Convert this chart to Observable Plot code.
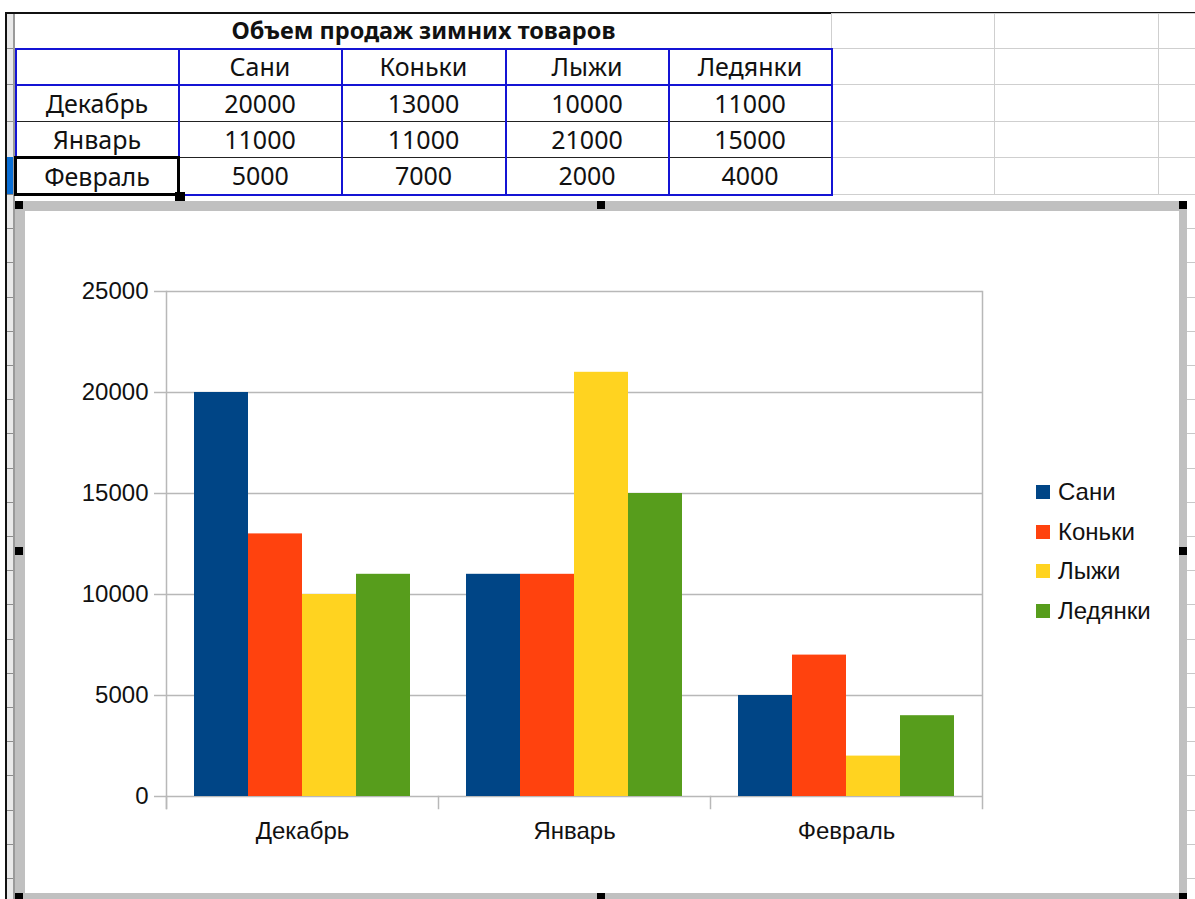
<!DOCTYPE html>
<html lang="ru">
<head>
<meta charset="utf-8">
<script src="https://cdn.jsdelivr.net/npm/d3@7"></script>
<script src="https://cdn.jsdelivr.net/npm/@observablehq/plot@0.6"></script>
<style>
  html, body { margin: 0; padding: 0; background: #fff; }
  #page { position: relative; width: 1195px; height: 899px; overflow: hidden; background: #fff; }
  .abs { position: absolute; }
  /* spreadsheet chrome */
  #topline { left: 6px; top: 12px; width: 1189px; height: 2px; background: #111; }
  #leftline { left: 5px; top: 12px; width: 2px; height: 887px; background: #111; }
  #rowhdr1 { left: 7px; top: 13px; width: 7px; height: 181px; background:
      repeating-linear-gradient(to bottom, #e9e9e9 0 35.2px, #8c8c8c 35.2px 36.2px); }
  #rowhdr2 { left: 7px; top: 194px; width: 7px; height: 705px; background:
      repeating-linear-gradient(to bottom, #8c8c8c 0 1px, #e9e9e9 1px 34.2px); }
  #rowsel { left: 7px; top: 157px; width: 7px; height: 37px; background: #0a6fd6; }
  #colsep { left: 13px; top: 13px; width: 2px; height: 886px; background: #9a9a9a; }
  #below { left: 15px; top: 194px; width: 1180px; height: 705px; background:
      repeating-linear-gradient(to bottom, #c8c8c8 0 1px, transparent 1px 34.2px); }
  #sheet { left: 14px; top: 13px; border-collapse: collapse; table-layout: fixed;
      font-family: "Noto Sans", "Open Sans", sans-serif; font-size: 25px; color: #111; }
  #sheet td { border: 1px solid #cfcfcf; padding: 0; text-align: center; vertical-align: middle;
      white-space: nowrap; overflow: hidden; line-height: 1; }
  #sheet td.ttl { font-weight: bold; font-size: 23.5px; border-left-color: transparent; border-top: 1px solid #111; }
  #sheet td.hd { border: 2px solid #1414d4; }
  #sheet td.dc { border-left: 2px solid #1414d4; border-right: 2px solid #1414d4;
      border-top: 1px solid #222; border-bottom: 1px solid #222; }
  #sheet td.dc.first { border-top: 2px solid #1414d4; }
  #sheet td.dc.last { border-bottom: 2px solid #1414d4; }
  #sheet td.sel { border: 3px solid #000 !important; }
  #fillhandle { left: 175px; top: 192px; width: 10px; height: 9px; background: #000; }
  /* chart object */
  #chartbox { left: 15px; top: 201px; width: 1172px; height: 700px; box-sizing: border-box;
      background: #fff; border-style: solid; border-color: #c0c0c0;
      border-width: 10px 8px 8px 10px; }
  .handle { position: absolute; width: 8px; height: 8px; background: #000; }
  #chart { position: absolute; left: 25px; top: 211px; }
  #legend { position: absolute; left: 1036px; top: 472px;
      font-family: "Liberation Sans", Arial, sans-serif; font-size: 24px; color: #111; }
  #legend .row { display: flex; align-items: center; height: 39.7px; }
  #legend .sw { width: 14px; height: 14px; margin-right: 8px; flex: none; }
</style>
</head>
<body>
<div id="page">
  <div id="below" class="abs"></div>
  <div id="rowhdr1" class="abs"></div>
  <div id="rowhdr2" class="abs"></div>
  <div id="rowsel" class="abs"></div>
  <div id="colsep" class="abs"></div>
  <div id="topline" class="abs"></div>
  <div id="leftline" class="abs"></div>
  <table id="sheet" class="abs"></table>
  <div id="fillhandle" class="abs"></div>
  <div id="chartbox" class="abs"></div>
  <div id="chart"></div>
  <div id="legend"></div>
</div>
<script>
// Sales of winter goods, by month and product
const title = "Объем продаж зимних товаров";
const months = ["Декабрь", "Январь", "Февраль"];
const items = ["Сани", "Коньки", "Лыжи", "Ледянки"];
const sani = [20000, 11000, 5000];
const konki = [13000, 11000, 7000];
const lyzhi = [10000, 21000, 2000];
const ledyanki = [11000, 15000, 4000];
const colors = ["#004586", "#ff420e", "#ffd320", "#579d1c"];
const yTicks = [0, 5000, 10000, 15000, 20000, 25000];

const series = [sani, konki, lyzhi, ledyanki];

// ---- spreadsheet table ----
const colWidths = [163, 163, 164, 163, 163, 163, 164, 60];
const rowHeights = [35, 36, 37, 36, 37];
const sheet = document.getElementById("sheet");
const cg = document.createElement("colgroup");
colWidths.forEach(w => { const c = document.createElement("col"); c.style.width = w + "px"; cg.appendChild(c); });
sheet.appendChild(cg);
sheet.style.width = d3.sum(colWidths) + "px";

function addRow(h, cells) {
  const tr = document.createElement("tr");
  tr.style.height = h + "px";
  cells.forEach(c => {
    const td = document.createElement("td");
    if (c.span) td.colSpan = c.span;
    if (c.cls) td.className = c.cls;
    td.textContent = c.text ?? "";
    tr.appendChild(td);
  });
  sheet.appendChild(tr);
}
const emptyCells = n => Array.from({length: n}, () => ({}));
addRow(rowHeights[0], [{text: title, span: 1 + items.length, cls: "ttl"}, ...emptyCells(3)]);
addRow(rowHeights[1], [{cls: "hd"}, ...items.map(t => ({text: t, cls: "hd"})), ...emptyCells(3)]);
months.forEach((m, i) => {
  const pos = (i === 0 ? " first" : "") + (i === months.length - 1 ? " last" : "");
  addRow(rowHeights[2 + i], [
    {text: m, cls: "dc" + pos + (i === months.length - 1 ? " sel" : "")},
    ...series.map(s => ({text: String(s[i]), cls: "dc" + pos})),
    ...emptyCells(3)
  ]);
});

// ---- chart object frame handles ----
const box = {left: 15, top: 201, right: 1187, bottom: 901};
const page = document.getElementById("page");
[box.left, (box.left + box.right) / 2 - 4, box.right - 8].forEach(x => {
  [box.top, (box.top + box.bottom) / 2 - 4, box.bottom - 8].forEach(y => {
    if (x === (box.left + box.right) / 2 - 4 && y === (box.top + box.bottom) / 2 - 4) return;
    const h = document.createElement("div");
    h.className = "handle";
    h.style.left = x + "px";
    h.style.top = y + "px";
    page.appendChild(h);
  });
});

// ---- clustered column chart ----
const rows = months.flatMap((m, i) => items.map((it, j) => ({month: m, item: it, value: series[j][i]})));
const W = 980, H = 650, mT = 80, mB = 65;
const axisGrey = "#b8b8b8";

const chart = Plot.plot({
  width: W,
  height: H,
  marginLeft: 140,
  marginRight: 22,
  marginTop: mT,
  marginBottom: mB,
  style: {fontFamily: "'Liberation Sans', Arial, sans-serif", fontSize: "24px", color: "#111", background: "transparent", overflow: "visible"},
  fx: {domain: months, padding: 0, label: null},
  x: {domain: items, paddingInner: 0, paddingOuter: 0.5, axis: null},
  y: {domain: [0, 25000], axis: null},
  color: {domain: items, range: colors},
  marks: [
    Plot.gridY(yTicks, {stroke: axisGrey, strokeOpacity: 1, strokeWidth: 1.5}),
    Plot.barY(rows, {fx: "month", x: "item", y: "value", fill: "item"}),
    Plot.axisY(yTicks, {tickSize: 12, tickPadding: 6, tickFormat: d => String(d), stroke: axisGrey, strokeWidth: 1.5, fill: "#111", label: null}),
    Plot.axisFx({anchor: "bottom", tickSize: 0, tickPadding: 25, label: null, fill: "#111"}),
    Plot.frame({anchor: "left", facetAnchor: "left", insetBottom: -12, stroke: axisGrey, strokeWidth: 1.5}),
    Plot.frame({anchor: "right", facetAnchor: "right", insetBottom: -12, stroke: axisGrey, strokeWidth: 1.5}),
    Plot.frame({anchor: "left", insetTop: H - mT - mB, insetBottom: -12, stroke: axisGrey, strokeWidth: 1.5})
  ]
});
document.getElementById("chart").appendChild(chart);

// ---- legend ----
const legend = d3.select("#legend");
items.forEach((it, i) => {
  const r = legend.append("div").attr("class", "row");
  r.append("div").attr("class", "sw").style("background", colors[i]);
  r.append("span").text(it);
});
</script>
</body>
</html>
